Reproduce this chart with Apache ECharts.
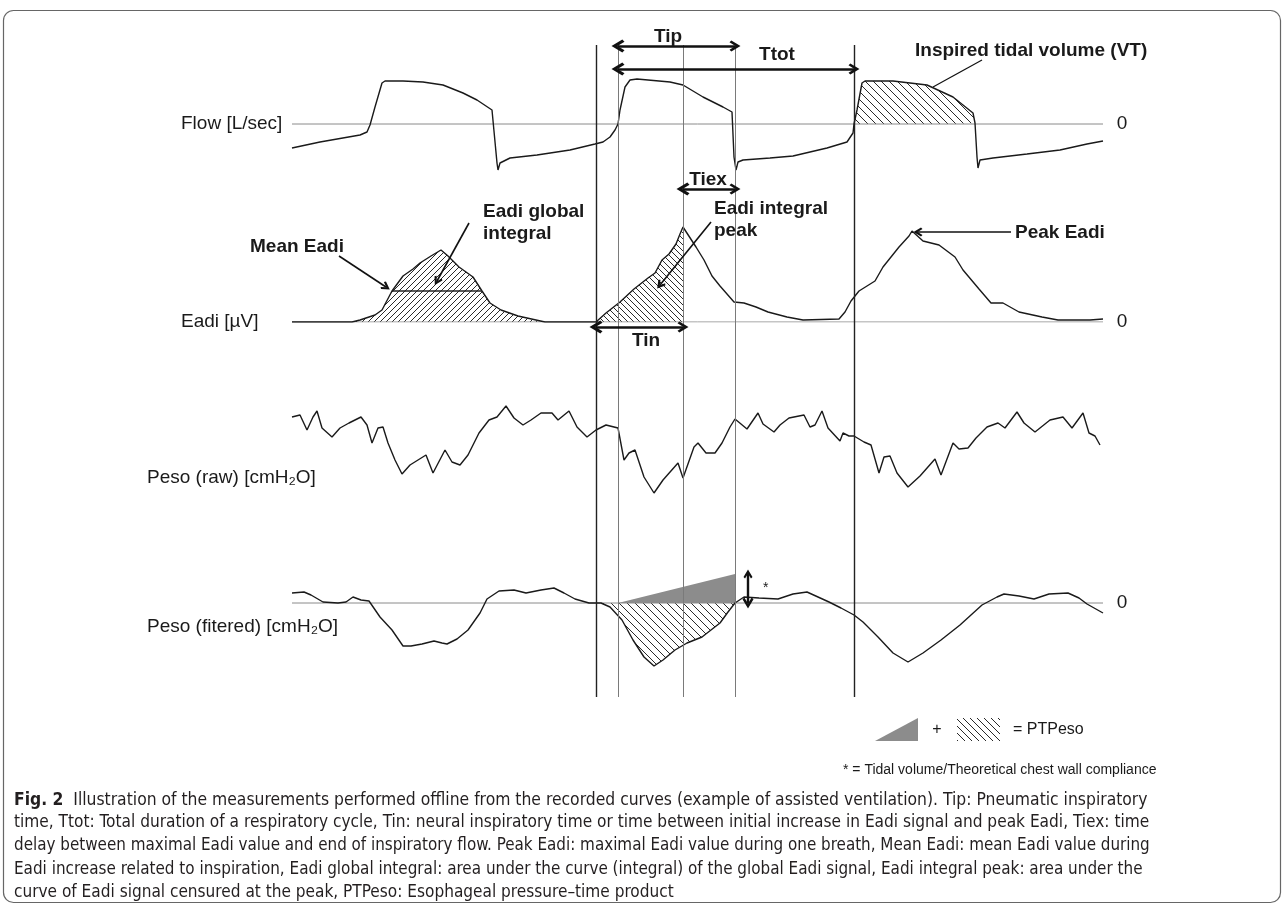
<!DOCTYPE html>
<html>
<head>
<meta charset="utf-8">
<script src="https://cdn.jsdelivr.net/npm/echarts@6/dist/echarts.min.js"></script>
<style>
  html, body { margin: 0; padding: 0; background: #ffffff; }
  #chart { width: 1284px; height: 906px; }
</style>
</head>
<body>
<div id="chart"></div>
<script>
// ---- Recorded signals (time in seconds) ----
// Flow [L/s]
const flowT = [0.02,0.30,0.70,0.77,0.80,0.85,0.92,0.95,1.13,1.33,1.53,1.73,1.87,2.02,2.03,2.07,2.08,2.10,2.20,2.47,2.80,3.05,3.13,3.20,3.25,3.28,3.30,3.35,3.40,3.47,3.80,3.93,4.13,4.33,4.42,4.44,4.46,4.48,4.53,4.80,5.03,5.37,5.57,5.63,5.64,5.67,5.72,5.75,6.03,6.37,6.63,6.83,6.85,6.87,6.88,6.90,7.03,7.37,7.70,7.97,8.13];
const flowV = [-0.48,-0.36,-0.22,-0.16,-0.02,0.34,0.82,0.86,0.86,0.84,0.78,0.62,0.48,0.28,0.24,-0.78,-0.92,-0.78,-0.68,-0.62,-0.52,-0.40,-0.36,-0.26,-0.12,0,0.28,0.74,0.88,0.90,0.84,0.78,0.54,0.34,0.24,-0.66,-0.92,-0.76,-0.72,-0.68,-0.64,-0.48,-0.36,-0.18,0,0.28,0.82,0.86,0.86,0.78,0.54,0.22,0.02,-0.66,-0.88,-0.72,-0.68,-0.60,-0.52,-0.40,-0.34];

// Eadi [µV]
const eadiT = [0.02,0.62,0.70,0.85,0.92,1.02,1.13,1.23,1.30,1.41,1.51,1.58,1.69,1.83,1.92,2.00,2.11,2.28,2.46,2.55,3.06,3.16,3.30,3.44,3.58,3.65,3.72,3.79,3.86,3.90,3.93,4.06,4.14,4.22,4.30,4.44,4.54,4.66,4.78,4.97,5.13,5.49,5.55,5.61,5.69,5.85,5.93,6.09,6.19,6.22,6.33,6.49,6.65,6.73,6.89,7.01,7.13,7.29,7.52,7.68,8.00,8.13];
const eadiV = [0,0,0.5,1.75,3.0,7.75,11.5,13.25,14.75,16.5,18.0,16.5,13.75,11.25,7.75,4.75,3.0,1.5,0.5,0,0,2.25,5.0,8.25,11.0,12.25,15.5,17.0,19.5,22.0,23.75,18.75,15.5,11.5,9.0,5.0,4.75,3.75,2.5,1.25,0.5,0.75,2.5,5.25,7.75,10.25,13.75,18.75,21.5,22.75,20.25,19.25,16.25,13.0,8.25,4.75,4.75,2.5,1.25,0.5,0.5,0.75];

// Esophageal pressure, raw [cmH2O]
const rawT = [0.02,0.10,0.17,0.23,0.27,0.32,0.42,0.50,0.59,0.71,0.77,0.82,0.88,0.93,0.98,1.05,1.12,1.20,1.36,1.43,1.55,1.62,1.70,1.78,1.89,1.99,2.07,2.16,2.24,2.33,2.41,2.51,2.62,2.68,2.79,2.87,2.97,3.06,3.16,3.28,3.34,3.39,3.45,3.54,3.64,3.73,3.88,3.93,4.04,4.08,4.16,4.25,4.32,4.40,4.45,4.57,4.68,4.73,4.84,4.90,4.99,5.14,5.20,5.25,5.32,5.38,5.50,5.53,5.59,5.64,5.74,5.81,5.89,5.94,6.00,6.07,6.18,6.30,6.45,6.51,6.63,6.69,6.78,6.86,6.97,7.08,7.15,7.27,7.34,7.45,7.60,7.73,7.82,7.93,7.99,8.05,8.10];
const rawV = [3.3,3.5,2.0,3.3,3.9,2.2,1.3,2.2,2.7,3.3,2.5,0.7,2.2,2.3,0.7,-1.0,-2.4,-1.5,-0.5,-2.3,0.0,-1.2,-1.5,-0.5,1.7,3.0,3.3,4.4,3.2,2.5,3.0,3.7,3.7,3.0,3.9,2.3,1.3,2.0,2.5,2.2,-1.0,-0.3,0.0,-2.7,-4.3,-3.0,-1.3,-2.8,0.3,0.7,-0.3,-0.3,0.7,2.3,3.1,2.1,3.7,2.6,1.8,2.5,3.2,3.5,2.3,2.5,3.9,2.2,0.9,1.7,1.4,1.4,0.8,0.5,-2.3,-0.7,-0.6,-2.3,-3.7,-2.6,-0.9,-2.5,0.7,0.1,0.2,1.2,2.3,2.7,2.2,3.8,2.7,1.8,3.0,3.3,2.2,3.7,1.7,1.4,0.5];

// Esophageal pressure, filtered [cmH2O]
const filtT = [0.02,0.14,0.21,0.33,0.48,0.56,0.63,0.71,0.79,0.90,1.02,1.13,1.21,1.32,1.44,1.52,1.57,1.67,1.78,1.90,1.97,2.09,2.24,2.36,2.51,2.64,2.74,2.85,2.99,3.11,3.20,3.32,3.43,3.54,3.64,3.73,3.85,3.97,4.12,4.30,4.38,4.45,4.54,4.69,4.88,5.03,5.17,5.28,5.39,5.51,5.64,5.73,5.88,6.03,6.18,6.33,6.51,6.70,6.92,7.07,7.14,7.29,7.44,7.59,7.78,7.89,7.97,8.13];
const filtV = [1.0,1.1,0.8,0.1,0,0.1,0.6,0.3,0.2,-1.4,-2.7,-4.3,-4.3,-4.1,-3.8,-4.0,-4.1,-3.6,-2.7,-1.0,0.4,1.2,1.3,1.0,1.3,1.5,1.0,0.4,0,0,-0.4,-1.7,-3.7,-5.4,-6.3,-5.7,-4.7,-4.0,-3.4,-2.0,-0.9,0,0.6,0.5,0.4,0.9,1.1,0.6,0.1,-0.5,-1.2,-1.9,-3.4,-5.0,-5.9,-5.0,-3.7,-2.2,-0.2,0.6,0.9,0.7,0.4,0.9,1.0,0.5,-0.1,-1.0];

// ---- Measurement events (s) and derived values ----
const eadiOnset = 3.06, flowOnset = 3.28, eadiPeakTime = 3.93, flowEnd = 4.45, nextFlowOnset = 5.64;
const globalStart = 0.62, globalEnd = 2.55;          // first-breath Eadi integration window
const vtEnd = 6.85;                                   // end of inspiratory flow for VT area
const meanEadi = 7.75, meanStart = 1.02, meanEnd = 1.92;
const elasticLoad = 2.9;                              // VT / theoretical chest wall compliance [cmH2O]
const tMax = 8.13;

// ---- Texts ----
const traceLabels = ['Flow [L/sec]', 'Eadi [µV]', 'Peso (raw) [cmH₂O]', 'Peso (fitered) [cmH₂O]'];
const captionHead = 'Fig. 2';
const captionLines = [
  '  Illustration of the measurements performed offline from the recorded curves (example of assisted ventilation). Tip: Pneumatic inspiratory',
  'time, Ttot: Total duration of a respiratory cycle, Tin: neural inspiratory time or time between initial increase in Eadi signal and peak Eadi, Tiex: time',
  'delay between maximal Eadi value and end of inspiratory flow. Peak Eadi: maximal Eadi value during one breath, Mean Eadi: mean Eadi value during',
  'Eadi increase related to inspiration, Eadi global integral: area under the curve (integral) of the global Eadi signal, Eadi integral peak: area under the',
  'curve of Eadi signal censured at the peak, PTPeso: Esophageal pressure–time product'
];

// ---- helpers ----
const zip = (t, v) => t.map((x, i) => [x, v[i]]);
const within = (pts, a, b) => pts.filter(p => p[0] >= a - 1e-9 && p[0] <= b + 1e-9);

function hatch(size, dir) {
  const c = document.createElement('canvas');
  c.width = c.height = size;
  const g = c.getContext('2d');
  g.strokeStyle = '#2a2a2a';
  g.lineWidth = 1;
  g.beginPath();
  for (let k = -1; k <= 1; k++) {
    if (dir === 'down') { g.moveTo(k * size, 0); g.lineTo(k * size + size, size); }
    else { g.moveTo(k * size, size); g.lineTo(k * size + size, 0); }
  }
  g.stroke();
  return { image: c, repeat: 'repeat' };
}

const FONT = '"Liberation Sans", Arial, sans-serif';
const CAP_FONT = '"Liberation Sans Narrow", "DejaVu Sans Condensed", "Liberation Sans", sans-serif';
const INK = '#1a1a1a';

// caption font sizes chosen so each full line spans the text block
const measureCtx = document.createElement('canvas').getContext('2d');
function capWidth(s, px, weight) {
  measureCtx.font = (weight || 'normal') + ' ' + px + 'px ' + CAP_FONT;
  return measureCtx.measureText(s).width;
}
const capRight = [1148, 1150, 1151, 1143];
const capSizes = capRight.map((r, i) => {
  const w = capWidth(captionLines[i], 20) + (i === 0 ? capWidth(captionHead, 20, 'bold') : 0);
  return +(20 * (r - 14) / w).toFixed(2);
});
capSizes.push(+(capSizes.reduce((a, b) => a + b, 0) / capSizes.length).toFixed(2));

const flowPts = zip(flowT, flowV);
const eadiPts = zip(eadiT, eadiV);
const rawPts = zip(rawT, rawV);
const filtPts = zip(filtT, filtV);

// ---- layout of the four traces ----
const L = 290, W = 813;
const grids = [
  { left: L, width: W, top: 74, height: 100 },   // flow  -1..1
  { left: L, width: W, top: 222, height: 100 },  // eadi   0..25
  { left: L, width: W, top: 400, height: 100 },  // raw   -5..5
  { left: L, width: W, top: 563, height: 120 },  // filt  -8..4
  { left: L, width: W, top: 0, height: 906 }     // annotation layer (pixel rows)
].map(g => Object.assign({ outerBoundsMode: 'none', containLabel: false }, g));
const yRanges = [[-1, 1], [0, 25], [-5, 5], [-8, 4], [0, 906]];

const xAxes = grids.map((g, i) => ({ type: 'value', gridIndex: i, min: 0, max: tMax, show: false }));
const yAxes = yRanges.map((r, i) => ({ type: 'value', gridIndex: i, min: r[0], max: r[1], show: false, inverse: i === 4 }));

function trace(i, pts) {
  return { type: 'line', xAxisIndex: i, yAxisIndex: i, data: pts, symbol: 'none', silent: true,
           lineStyle: { color: INK, width: 1.4 }, z: 6 };
}
function baseline(i) {
  return { type: 'line', xAxisIndex: i, yAxisIndex: i, data: [[0.02, 0], [tMax, 0]], symbol: 'none', silent: true,
           lineStyle: { color: '#8a8a8a', width: 1 }, z: 4 };
}
function area(i, pts, fill) {
  return { type: 'line', xAxisIndex: i, yAxisIndex: i, data: pts, symbol: 'none', silent: true,
           lineStyle: { width: 0 }, areaStyle: { color: fill, opacity: 1, origin: 0 }, z: 3 };
}
// bold open arrow head, drawn pointing up and rotated along the line
const HEAD = 'path://M5,0 L10,6.5 L8.3,7.8 L5,3.6 L1.7,7.8 L0,6.5 Z';
function arrows(items, width, size, both, head) {
  return { type: 'lines', coordinateSystem: 'cartesian2d', xAxisIndex: 4, yAxisIndex: 4, silent: true,
           symbol: both ? [head, head] : ['none', head], symbolSize: size,
           lineStyle: { color: '#111', width: width, opacity: 1 }, z: 10,
           data: items.map(c => ({ coords: c })) };
}

// vertical event markers across all traces
const markerTop = 45, markerBottom = 697;
const markers = {
  type: 'lines', coordinateSystem: 'cartesian2d', xAxisIndex: 4, yAxisIndex: 4, silent: true, z: 8,
  symbol: ['none', 'none'],
  data: [
    { coords: [[eadiOnset, markerTop], [eadiOnset, markerBottom]], lineStyle: { color: '#222', width: 1.4, opacity: 1 } },
    { coords: [[flowOnset, markerTop], [flowOnset, markerBottom]], lineStyle: { color: '#7a7a7a', width: 1, opacity: 1 } },
    { coords: [[eadiPeakTime, markerTop], [eadiPeakTime, markerBottom]], lineStyle: { color: '#7a7a7a', width: 1, opacity: 1 } },
    { coords: [[flowEnd, markerTop], [flowEnd, markerBottom]], lineStyle: { color: '#7a7a7a', width: 1, opacity: 1 } },
    { coords: [[nextFlowOnset, markerTop], [nextFlowOnset, markerBottom]], lineStyle: { color: '#222', width: 1.4, opacity: 1 } }
  ]
};

const px2t = x => +((x - L) / 100).toFixed(3);

const series = [
  baseline(0), baseline(1), baseline(3),
  area(0, within(flowPts, nextFlowOnset, vtEnd), hatch(8, 'down')),
  area(1, within(eadiPts, globalStart, globalEnd), hatch(6, 'up')),
  area(1, within(eadiPts, eadiOnset, eadiPeakTime), hatch(6, 'down')),
  area(3, within(filtPts, 3.11, flowEnd), hatch(8, 'down')),
  { type: 'line', xAxisIndex: 3, yAxisIndex: 3, data: [[flowOnset, 0], [flowEnd, elasticLoad]], symbol: 'none', silent: true,
    lineStyle: { width: 0 }, areaStyle: { color: '#8c8c8c', opacity: 1, origin: 0 }, z: 3 },
  { type: 'line', xAxisIndex: 1, yAxisIndex: 1, data: [[meanStart, meanEadi], [meanEnd, meanEadi]], symbol: 'none', silent: true,
    lineStyle: { color: '#222', width: 1.6 }, z: 7 },
  trace(0, flowPts), trace(1, eadiPts), trace(2, rawPts), trace(3, filtPts),
  markers,
  // Tip, Ttot, Tiex, Tin
  arrows([
    [[flowOnset, 46], [flowEnd, 46]],
    [[flowOnset, 69], [nextFlowOnset, 69]],
    [[eadiPeakTime, 189], [flowEnd, 189]],
    [[eadiOnset, 327], [eadiPeakTime, 327]]
  ], 2.6, [13, 11], true, HEAD),
  // pointers
  arrows([
    [[px2t(339), 256], [px2t(386), 287]],
    [[px2t(469), 223], [px2t(437), 281]],
    [[px2t(711), 222], [px2t(660), 285]],
    [[px2t(1011), 232], [px2t(918), 232]]
  ], 1.6, [11, 9], false, HEAD),
  { type: 'lines', coordinateSystem: 'cartesian2d', xAxisIndex: 4, yAxisIndex: 4, silent: true, symbol: ['none', 'none'],
    lineStyle: { color: '#111', width: 1.2, opacity: 1 }, z: 10,
    data: [{ coords: [[px2t(982), 60], [px2t(933), 87]] }] },
  // VT / Ccw double arrow on the filtered pressure
  { type: 'lines', coordinateSystem: 'cartesian2d', xAxisIndex: 3, yAxisIndex: 3, silent: true,
    symbol: [HEAD, HEAD], symbolSize: [11, 9], lineStyle: { color: '#111', width: 2.4, opacity: 1 }, z: 10,
    data: [{ coords: [[flowEnd + 0.13, 0], [flowEnd + 0.13, elasticLoad]] }] }
];

// ---- text and legend graphics ----
function txt(x, y, text, opt) {
  opt = opt || {};
  return { type: 'text', x: x, y: y, silent: true, z: 20,
    style: { text: text, fontFamily: opt.family || FONT, fontSize: opt.size || 19, fontWeight: opt.bold ? 'bold' : 'normal',
             fill: opt.color || INK, align: opt.align || 'left', verticalAlign: 'middle',
             textAlign: opt.align || 'left', textVerticalAlign: 'middle', lineHeight: opt.lh || 22 } };
}

const graphics = [
  { type: 'rect', silent: true, z: 0, shape: { x: 3.5, y: 10.5, width: 1277, height: 892, r: 10 },
    style: { fill: 'none', stroke: '#666', lineWidth: 1.2 } },
  txt(181, 124, traceLabels[0]),
  txt(181, 322, traceLabels[1]),
  txt(147, 478, traceLabels[2]),
  txt(147, 627, traceLabels[3]),
  txt(1122, 124, '0', { align: 'center' }),
  txt(1122, 322, '0', { align: 'center' }),
  txt(1122, 603, '0', { align: 'center' }),
  txt(668, 37, 'Tip', { bold: true, align: 'center' }),
  txt(777, 55, 'Ttot', { bold: true, align: 'center' }),
  txt(915, 51, 'Inspired tidal volume (VT)', { bold: true }),
  txt(708, 180, 'Tiex', { bold: true, align: 'center' }),
  txt(714, 220, 'Eadi integral\npeak', { bold: true }),
  txt(483, 223, 'Eadi global\nintegral', { bold: true }),
  txt(250, 247, 'Mean Eadi', { bold: true }),
  txt(1015, 233, 'Peak Eadi', { bold: true }),
  txt(646, 341, 'Tin', { bold: true, align: 'center' }),
  txt(763, 588, '*', { size: 14 }),
  // PTPeso legend
  { type: 'polygon', silent: true, z: 20, shape: { points: [[875, 741], [918, 718], [918, 741]] }, style: { fill: '#8c8c8c' } },
  txt(937, 730, '+', { size: 16, align: 'center' }),
  { type: 'rect', silent: true, z: 20, shape: { x: 957, y: 718, width: 43, height: 23 }, style: { fill: hatch(7, 'down') } },
  txt(1013, 730, '= PTPeso', { size: 16 }),
  txt(843, 770, '* = Tidal volume/Theoretical chest wall compliance', { size: 14 }),
  // caption
  { type: 'text', x: 14, y: 800, silent: true, z: 20,
    style: { text: '{b|' + captionHead + '}{r|' + captionLines[0] + '}', verticalAlign: 'middle', textVerticalAlign: 'middle',
             rich: { b: { fontFamily: CAP_FONT, fontSize: capSizes[0], fontWeight: 'bold', fill: '#231f20' },
                     r: { fontFamily: CAP_FONT, fontSize: capSizes[0], fill: '#231f20' } } } }
];
[823, 846, 870, 893].forEach((y, i) => {
  graphics.push(txt(14, y, captionLines[i + 1], { size: capSizes[i + 1], color: '#231f20', family: CAP_FONT }));
});

const chart = echarts.init(document.getElementById('chart'), null, { renderer: 'canvas' });
chart.setOption({
  animation: false,
  backgroundColor: '#ffffff',
  grid: grids,
  xAxis: xAxes,
  yAxis: yAxes,
  series: series,
  graphic: { elements: graphics }
});
</script>
</body>
</html>
